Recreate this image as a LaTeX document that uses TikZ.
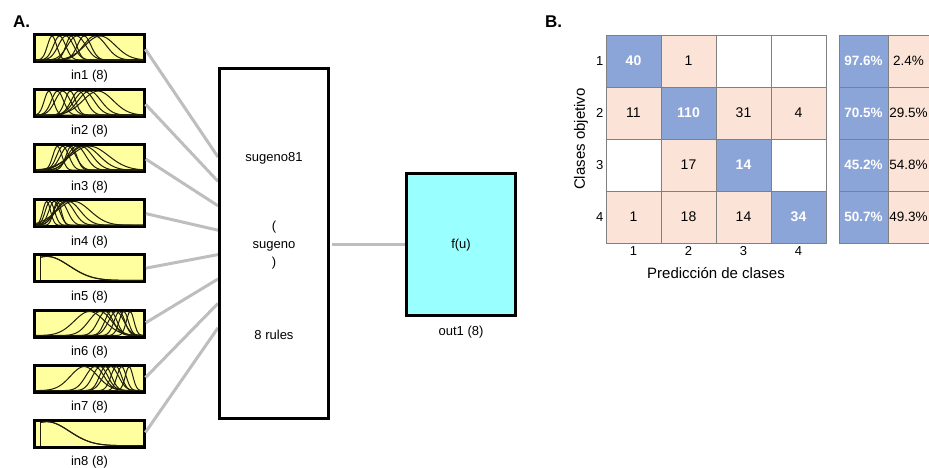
\documentclass[tikz,border=0pt]{standalone}
\usepackage{fontspec}
\setmainfont{Liberation Sans}

\definecolor{mfyellow}{RGB}{255,255,160}
\definecolor{outcyan}{RGB}{153,255,255}
\definecolor{wiregray}{RGB}{190,190,190}
\definecolor{gridgray}{RGB}{128,128,128}
\definecolor{cmblue}{RGB}{139,165,217}
\definecolor{cmpeach}{RGB}{251,228,215}
\definecolor{mfink}{RGB}{30,30,10}

\tikzset{
  inbox/.style={draw=black, line width=3pt, fill=mfyellow, minimum width=110pt,
    minimum height=27pt, inner sep=0pt, outer sep=0pt},
  fisbox/.style={draw=black, line width=3pt, inner sep=0pt, outer sep=0pt},
  lab/.style={font=\fontsize{13}{15}\selectfont, inner sep=0pt},
  panel/.style={font=\fontsize{17}{19}\selectfont\bfseries, inner sep=0pt, anchor=base west},
  wire/.style={draw=wiregray, line width=3pt},
  mfline/.style={draw=mfink, line width=1pt},
  cell/.style={draw=gridgray, line width=1pt, minimum width=55pt, minimum height=52pt,
    inner sep=0pt, outer sep=0pt, anchor=north west, font=\fontsize{14}{16}\selectfont},
  diag/.style={cell, fill=cmblue, text=white, font=\fontsize{14}{16}\selectfont\bfseries},
  off/.style={cell, fill=cmpeach},
  blank/.style={cell, fill=white},
  sumcell/.style={minimum width=49pt, font=\fontsize{13.5}{16}\selectfont},
  sumdiag/.style={diag, sumcell, font=\fontsize{13.5}{16}\selectfont\bfseries},
  sumtext/.style={font=\fontsize{13.5}{16}\selectfont, inner sep=0pt},
  tick/.style={font=\fontsize{13}{15}\selectfont, inner sep=0pt},
  axlab/.style={font=\fontsize{15}{17}\selectfont, inner sep=0pt}
}

% one input panel: box, gaussian membership functions, caption
\newcommand\mfpanel[3]{%
  \node[inbox] (in#1) at (89.5,#2) {};
  \begin{scope}[shift={(36,#2+12)}, x=107pt, y=24pt]
    \clip (0,0) rectangle (1,1);
    \foreach \mc/\ms in {#3} {
      \draw[mfline] plot[domain=0:1, samples=70] (\x,{exp(-((\x-\mc)*(\x-\mc))/(\ms*\ms))});
    }
  \end{scope}
  \node[lab] (lin#1) at (89.5,#2+28.5) {in#1 (8)};
}

% input panel whose functions collapse onto one edge spike and one wide bell
\newcommand\mfedgepanel[2]{%
  \node[inbox] (in#1) at (89.5,#2) {};
  \begin{scope}[shift={(36,#2+12)}, x=107pt, y=24pt]
    \clip (0,0) rectangle (1,1);
    \draw[mfline] (0.045,0) -- (0.045,1);
    \draw[mfline] plot[domain=0.045:1, samples=70] (\x,{exp(-((\x-0.1)*(\x-0.1))/(0.09))});
    \draw[mfline] plot[domain=0.045:1, samples=70] (\x,{exp(-((\x-0.1)*(\x-0.1))/(0.088))});
  \end{scope}
  \node[lab] (lin#1) at (89.5,#2+28.5) {in#1 (8)};
}

\begin{document}
\begin{tikzpicture}[x=1pt, y=-1pt]
\useasboundingbox (0,0) rectangle (929,467);
\clip (0,0) rectangle (929,467);

% ---------------- panel A: fuzzy inference system ----------------
\node[panel] (pa) at (13,27) {A.};

\mfpanel{1}{48}{0.15/0.06, 0.22/0.08, 0.28/0.1, 0.33/0.07, 0.38/0.12, 0.45/0.09, 0.55/0.15, 0.6/0.2}
\mfpanel{2}{103.1}{0.12/0.06, 0.2/0.08, 0.25/0.1, 0.32/0.07, 0.4/0.1, 0.45/0.13, 0.5/0.15, 0.58/0.2}
\mfpanel{3}{158.2}{0.2/0.06, 0.25/0.08, 0.3/0.1, 0.33/0.07, 0.38/0.12, 0.42/0.15, 0.45/0.2, 0.5/0.25}
\mfpanel{4}{213.3}{0.1/0.05, 0.13/0.06, 0.17/0.07, 0.2/0.05, 0.23/0.09, 0.27/0.12, 0.3/0.16, 0.35/0.22}
\mfedgepanel{5}{268.4}
\mfpanel{6}{323.5}{0.5/0.2, 0.6/0.15, 0.65/0.1, 0.7/0.08, 0.75/0.1, 0.78/0.07, 0.82/0.06, 0.88/0.05}
\mfpanel{7}{378.6}{0.45/0.18, 0.55/0.12, 0.6/0.1, 0.65/0.08, 0.7/0.1, 0.75/0.07, 0.8/0.06, 0.87/0.05}
\mfedgepanel{8}{433.7}

% wires into the rule block
\foreach \i in {1,...,8} {
  \coordinate (e\i) at (218,{157+24.4*(\i-1)});
  \draw[wire, shorten <=1.5pt] (in\i.east) -- (e\i);
}

\node[fisbox, minimum width=109pt, minimum height=350pt] (sug) at (274,243.5) {};
\node[lab] (s1) at (274,158) {sugeno81};
\node[lab] (s2) at (274,227) {(};
\node[lab] (s3) at (274,246) {sugeno};
\node[lab] (s4) at (274,263) {)};
\node[lab] (s5) at (274,335) {8 rules};

\node[fisbox, fill=outcyan, minimum width=109pt, minimum height=142pt] (out) at (461,244.5) {};
\node[lab] (fu) at (461,245) {f(u)};
\node[lab] (lout) at (461,332) {out1 (8)};

\draw[wire, shorten <=3pt, shorten >=1.5pt] (sug.east |- out.west) -- (out.west);

% ---------------- panel B: confusion matrix ----------------
\node[panel] (pb) at (545,27) {B.};

\node[diag]  (m11) at (606,35)  {40};
\node[off]   (m12) at (661,35)  {1};
\node[blank] (m13) at (716,35)  {};
\node[blank] (m14) at (771,35)  {};
\node[off]   (m21) at (606,87)  {11};
\node[diag]  (m22) at (661,87)  {110};
\node[off]   (m23) at (716,87)  {31};
\node[off]   (m24) at (771,87)  {4};
\node[blank] (m31) at (606,139) {};
\node[off]   (m32) at (661,139) {17};
\node[diag]  (m33) at (716,139) {14};
\node[blank] (m34) at (771,139) {};
\node[off]   (m41) at (606,191) {1};
\node[off]   (m42) at (661,191) {18};
\node[off]   (m43) at (716,191) {14};
\node[diag]  (m44) at (771,191) {34};

% per-row summary: correct share and error share
\node[sumdiag]       (r1a) at (839,35)  {97.6\%};
\node[off, sumcell]  (r1b) at (888,35)  {};
\node[sumdiag]       (r2a) at (839,87)  {70.5\%};
\node[off, sumcell]  (r2b) at (888,87)  {};
\node[sumdiag]       (r3a) at (839,139) {45.2\%};
\node[off, sumcell]  (r3b) at (888,139) {};
\node[sumdiag]       (r4a) at (839,191) {50.7\%};
\node[off, sumcell]  (r4b) at (888,191) {};
\node[sumtext] (t1b) at (908.5,61)  {2.4\%};
\node[sumtext] (t2b) at (908.5,113) {29.5\%};
\node[sumtext] (t3b) at (908.5,165) {54.8\%};
\node[sumtext] (t4b) at (908.5,217) {49.3\%};

% ticks and axis titles
\foreach \r in {1,...,4} {
  \node[tick, anchor=east] (ty\r) at (603.5,{61+52*(\r-1)}) {\r};
  \node[tick] (tx\r) at ({633.5+55*(\r-1)},251) {\r};
}
\node[axlab] (xl) at (716,273) {Predicción de clases};
\node[axlab, rotate=90] (yl) at (581,139) {Clases objetivo};

\end{tikzpicture}
\end{document}
